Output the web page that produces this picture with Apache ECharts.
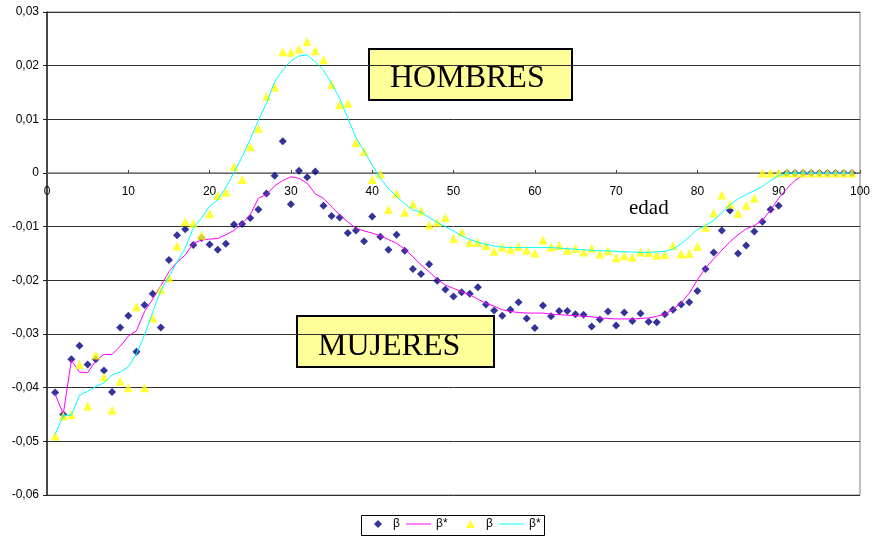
<!DOCTYPE html>
<html>
<head>
<meta charset="utf-8">
<title>beta por edad</title>
<script src="https://cdn.jsdelivr.net/npm/echarts@6/dist/echarts.min.js"></script>
<style>
  html, body { margin: 0; padding: 0; background: #fff; }
  #chart { width: 875px; height: 540px; }
</style>
</head>
<body>
<div id="chart"></div>
<script>
// edad 1..99
const ages = Array.from({ length: 99 }, (_, i) => i + 1);

// MUJERES: beta observado (rombos) y beta* suavizado (linea magenta)
const mujeresBeta = [
  -0.0409, -0.0450, -0.0347, -0.0322, -0.0357, -0.0347, -0.0368, -0.0408, -0.0288, -0.0266,
  -0.0333, -0.0246, -0.0225, -0.0288, -0.0162, -0.0116, -0.0105, -0.0134, -0.0121, -0.0133,
  -0.0143, -0.0132, -0.0096, -0.0095, -0.0084, -0.0068, -0.0038, -0.0005, 0.0059, -0.0058,
  0.0004, -0.0008, 0.0003, -0.0061, -0.0080, -0.0083, -0.0112, -0.0107, -0.0127, -0.0081,
  -0.0119, -0.0143, -0.0115, -0.0145, -0.0179, -0.0188, -0.0170, -0.0201, -0.0217, -0.0230,
  -0.0222, -0.0225, -0.0213, -0.0245, -0.0256, -0.0266, -0.0255, -0.0241, -0.0271, -0.0289,
  -0.0247, -0.0267, -0.0257, -0.0257, -0.0263, -0.0264, -0.0286, -0.0273, -0.0258, -0.0284,
  -0.0260, -0.0276, -0.0262, -0.0277, -0.0278, -0.0263, -0.0255, -0.0245, -0.0241, -0.0220,
  -0.0179, -0.0148, -0.0107, -0.0070, -0.0150, -0.0135, -0.0109, -0.0091, -0.0068, -0.0061,
  0, 0, 0, 0, 0, 0, 0, 0, 0
];
const mujeresSuav = [
  -0.0412, -0.0449, -0.0349, -0.0371, -0.0372, -0.0350, -0.0338, -0.0338, -0.0323, -0.0304,
  -0.0294, -0.0258, -0.0235, -0.0210, -0.0184, -0.0166, -0.0153, -0.0131, -0.0125, -0.0123,
  -0.0122, -0.0115, -0.0107, -0.0094, -0.0078, -0.0047, -0.0040, -0.0024, -0.0014, -0.0007,
  -0.0010, -0.0019, -0.0039, -0.0047, -0.0063, -0.0078, -0.0091, -0.0103, -0.0108, -0.0112,
  -0.0117, -0.0124, -0.0131, -0.0142, -0.0156, -0.0171, -0.0184, -0.0198, -0.0209, -0.0215,
  -0.0221, -0.0227, -0.0235, -0.0243, -0.0248, -0.0255, -0.0258, -0.0260, -0.0261, -0.0261,
  -0.0261, -0.0263, -0.0264, -0.0265, -0.0266, -0.0267, -0.0268, -0.0270, -0.0271, -0.0272,
  -0.0272, -0.0272, -0.0271, -0.0270, -0.0267, -0.0263, -0.0254, -0.0242, -0.0224, -0.0199,
  -0.0177, -0.0160, -0.0144, -0.0128, -0.0115, -0.0104, -0.0098, -0.0088, -0.0069, -0.0047,
  -0.0029, -0.0014, -0.0004, 0, 0, 0, 0, 0, 0
];

// HOMBRES: beta observado (triangulos) y beta* suavizado (linea cian)
const hombresBeta = [
  -0.0490, -0.0453, -0.0450, -0.0357, -0.0434, -0.0339, -0.0380, -0.0442, -0.0388, -0.0400,
  -0.0249, -0.0400, -0.0270, -0.0217, -0.0195, -0.0136, -0.0091, -0.0094, -0.0116, -0.0076,
  -0.0042, -0.0036, 0.0012, -0.0012, 0.0049, 0.0083, 0.0143, 0.0160, 0.0226, 0.0225,
  0.0231, 0.0245, 0.0228, 0.0211, 0.0165, 0.0127, 0.0130, 0.0057, 0.0040, -0.0012,
  -0.0002, -0.0068, -0.0038, -0.0073, -0.0058, -0.0071, -0.0097, -0.0092, -0.0083, -0.0122,
  -0.0110, -0.0129, -0.0129, -0.0135, -0.0146, -0.0138, -0.0142, -0.0137, -0.0144, -0.0149,
  -0.0125, -0.0138, -0.0135, -0.0144, -0.0140, -0.0147, -0.0140, -0.0151, -0.0145, -0.0158,
  -0.0154, -0.0157, -0.0147, -0.0148, -0.0153, -0.0152, -0.0135, -0.0151, -0.0150, -0.0137,
  -0.0101, -0.0074, -0.0041, -0.0058, -0.0075, -0.0060, -0.0047, 0, 0, 0,
  0, 0, 0, 0, 0, 0, 0, 0, 0
];
const hombresSuav = [
  -0.0487, -0.0452, -0.0451, -0.0414, -0.0407, -0.0398, -0.0391, -0.0376, -0.0371, -0.0361,
  -0.0337, -0.0302, -0.0259, -0.0219, -0.0193, -0.0166, -0.0140, -0.0102, -0.0084, -0.0062,
  -0.0050, -0.0027, 0.0001, 0.0030, 0.0063, 0.0098, 0.0130, 0.0170, 0.0192, 0.0209,
  0.0218, 0.0220, 0.0207, 0.0192, 0.0167, 0.0139, 0.0102, 0.0066, 0.0041, 0.0015,
  -0.0010, -0.0029, -0.0044, -0.0057, -0.0069, -0.0073, -0.0083, -0.0092, -0.0100, -0.0108,
  -0.0117, -0.0124, -0.0129, -0.0133, -0.0136, -0.0138, -0.0139, -0.0139, -0.0139, -0.0139,
  -0.0139, -0.0139, -0.0140, -0.0141, -0.0142, -0.0143, -0.0144, -0.0145, -0.0145, -0.0146,
  -0.0147, -0.0147, -0.0148, -0.0148, -0.0147, -0.0146, -0.0142, -0.0132, -0.0119, -0.0105,
  -0.0098, -0.0088, -0.0074, -0.0060, -0.0048, -0.0040, -0.0033, -0.0025, -0.0014, -0.0005,
  0, 0, 0, 0, 0, 0, 0, 0, 0
];

const legendLabels = { mB: 'β', mS: 'β*', hB: 'β', hS: 'β*' };

const pairs = vals => ages.map((a, i) => [a, vals[i]]);
const fmtY = v => (Math.abs(v) < 1e-9 ? '0' : v.toFixed(2).replace('.', ','));

const chart = echarts.init(document.getElementById('chart'));

// plot area: 12..495 px high, zero line at 173 px
const plotTop = 12, plotBottom = 45, plotH = 540 - plotTop - plotBottom;
const zeroOffset = -Math.round(plotH * 0.06 / 0.09);

const legendText = { color: '#000', fontFamily: 'Liberation Sans', fontSize: 12 };
function oneLegend(name, left, icon, w, h, textPad) {
  return {
    left: left,
    top: 518,
    padding: 0,
    itemWidth: w,
    itemHeight: h,
    icon: icon,
    textStyle: Object.assign({ padding: [0, 0, 0, textPad] }, legendText),
    formatter: n => legendLabels[n],
    data: [name]
  };
}

const option = {
  backgroundColor: '#fff',
  animation: false,
  grid: {
    left: 47,
    right: 15,
    top: plotTop,
    bottom: plotBottom,
    show: true,
    borderColor: '#808080',
    borderWidth: 1
  },
  xAxis: {
    type: 'value',
    min: 0,
    max: 100,
    interval: 10,
    offset: zeroOffset,
    axisLine: { onZero: false, lineStyle: { color: '#808080', width: 1.5 } },
    axisTick: { show: true, inside: true, length: 3, lineStyle: { color: '#404040' } },
    axisLabel: {
      margin: 13,
      color: '#000',
      fontFamily: 'Liberation Sans',
      fontSize: 12
    },
    splitLine: { show: false }
  },
  yAxis: {
    type: 'value',
    min: -0.06,
    max: 0.03,
    interval: 0.01,
    axisLine: { show: true, onZero: false, lineStyle: { color: '#202020', width: 1.5 } },
    axisTick: { show: true, length: 4, lineStyle: { color: '#202020' } },
    axisLabel: {
      margin: 8,
      color: '#000',
      fontFamily: 'Liberation Sans',
      fontSize: 12,
      formatter: fmtY
    },
    splitLine: { show: true, lineStyle: { color: '#303030', width: 1 } }
  },
  legend: [
    oneLegend('mB', 374, 'diamond', 8, 8, 6),
    oneLegend('mS', 406, 'rect', 25, 1, 0),
    oneLegend('hB', 466, 'triangle', 9, 8, 6),
    oneLegend('hS', 499, 'rect', 25, 1, 0)
  ],
  series: [
    {
      name: 'mB',
      type: 'scatter',
      symbol: 'diamond',
      symbolSize: 8,
      itemStyle: { color: '#000080' },
      data: pairs(mujeresBeta),
      z: 2
    },
    {
      name: 'mS',
      type: 'line',
      symbol: 'none',
      showSymbol: false,
      lineStyle: { color: '#ff00ff', width: 1 },
      itemStyle: { color: '#ff00ff' },
      data: pairs(mujeresSuav),
      z: 3
    },
    {
      name: 'hB',
      type: 'scatter',
      symbol: 'triangle',
      symbolSize: 9,
      itemStyle: { color: '#ffff00' },
      data: pairs(hombresBeta),
      z: 4
    },
    {
      name: 'hS',
      type: 'line',
      symbol: 'none',
      showSymbol: false,
      lineStyle: { color: '#00ffff', width: 1 },
      itemStyle: { color: '#00ffff' },
      data: pairs(hombresSuav),
      z: 5
    }
  ],
  graphic: [
    {
      // marco de la leyenda
      type: 'rect',
      left: 361,
      top: 515,
      z: 0,
      shape: { width: 183, height: 20 },
      style: { fill: '#fff', stroke: '#000', lineWidth: 1 }
    },
    {
      type: 'group',
      left: 368,
      top: 48,
      z: 10,
      children: [
        {
          type: 'rect',
          shape: { x: 0, y: 0, width: 203, height: 51 },
          style: { fill: '#ffff99', stroke: '#000', lineWidth: 2 }
        },
        {
          type: 'text',
          x: 21,
          y: 46,
          style: {
            text: 'HOMBRES',
            fill: '#000',
            font: '32px "Liberation Serif"',
            textVerticalAlign: 'bottom'
          }
        }
      ]
    },
    {
      type: 'group',
      left: 296,
      top: 315,
      z: 10,
      children: [
        {
          type: 'rect',
          shape: { x: 0, y: 0, width: 197, height: 51 },
          style: { fill: '#ffff99', stroke: '#000', lineWidth: 2 }
        },
        {
          type: 'text',
          x: 21,
          y: 47,
          style: {
            text: 'MUJERES',
            fill: '#000',
            font: '32px "Liberation Serif"',
            textVerticalAlign: 'bottom'
          }
        }
      ]
    },
    {
      type: 'text',
      left: 629,
      top: 198,
      z: 10,
      style: {
        text: 'edad',
        fill: '#000',
        font: '21px "Liberation Serif"'
      }
    }
  ]
};

chart.setOption(option);
</script>
</body>
</html>
